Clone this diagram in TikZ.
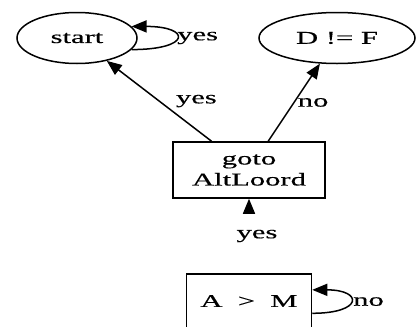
\documentclass[tikz,border=0pt]{standalone}
\usepackage{fontspec}
\setmainfont{Liberation Serif}[FakeStretch=1.7, FakeBold=0.4]
\usetikzlibrary{arrows.meta,shapes.geometric}

\begin{document}
\begin{tikzpicture}[x=1pt, y=-1pt, line width=1.5pt,
    every node/.style={font=\fontsize{18}{21}\selectfont},
    state/.style={draw, ellipse, inner sep=0pt, minimum height=51pt},
    act/.style={draw, rectangle, align=center, inner sep=0pt, minimum height=56pt},
    lbl/.style={inner sep=0pt, anchor=west},
    arr/.style={-{Triangle[length=15pt,width=12pt]}}]
  \useasboundingbox (0,0) rectangle (416,327);
  \node (start) [state, minimum width=120pt] at (77,38) {start};
  \node (dnf) [state, minimum width=156pt] at (337,38) {D != F};
  \node (goto) [act, minimum width=152pt] at (249,170) {goto\\AltLoord};
  \node (amn) [act, minimum width=125pt, minimum height=54pt] at (249,301) {A\ \ >\ \ M};
  \draw [arr] (start.-12) .. controls +(60,0) and +(60,0) .. node[lbl] {yes} (start.12);
  \draw [arr] (goto) -- node[lbl, xshift=16pt] {yes} (start);
  \draw [arr] (goto) -- node[lbl, xshift=3pt] {no} (dnf);
  \draw [arr, shorten <=61pt] (amn) -- node[lbl, anchor=center, xshift=8pt] {yes} (goto);
  \draw [arr] (amn.-11) .. controls +(51,0) and +(51,0) .. node[lbl, xshift=2pt] {no} (amn.10);
\end{tikzpicture}
\end{document}
